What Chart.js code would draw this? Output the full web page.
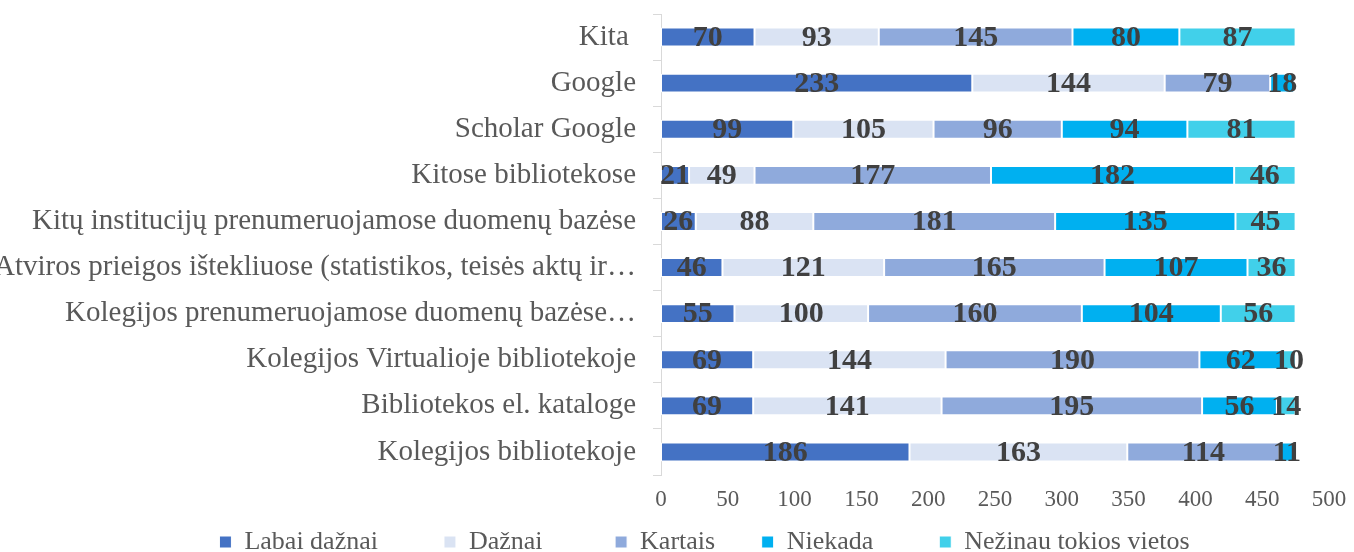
<!DOCTYPE html>
<html>
<head>
<meta charset="utf-8">
<script src="https://cdn.jsdelivr.net/npm/chart.js@4.4.0/dist/chart.umd.min.js"></script>
<style>
  html, body { margin: 0; padding: 0; background: #fff; }
  #wrap { width: 1354px; height: 552px; }
</style>
</head>
<body>
<div id="wrap"><canvas id="c"></canvas></div>
<script>
const categories = [
    "Kita ",
    "Google",
    "Scholar Google",
    "Kitose bibliotekose",
    "Kitų institucijų prenumeruojamose duomenų bazėse",
    "Atviros prieigos ištekliuose (statistikos, teisės aktų ir…",
    "Kolegijos prenumeruojamose duomenų bazėse…",
    "Kolegijos Virtualioje bibliotekoje",
    "Bibliotekos el. kataloge",
    "Kolegijos bibliotekoje"
];
const labaiDaznai = [70, 233, 99, 21, 26, 46, 55, 69, 69, 186];
const daznai      = [93, 144, 105, 49, 88, 121, 100, 144, 141, 163];
const kartais     = [145, 79, 96, 177, 181, 165, 160, 190, 195, 114];
const niekada     = [80, 18, 94, 182, 135, 107, 104, 62, 56, 11];
const nezinau     = [87, 0, 81, 46, 45, 36, 56, 10, 14, 0];
const seriesNames = ["Labai dažnai", "Dažnai", "Kartais", "Niekada", "Nežinau tokios vietos"];
const xTicks = [0, 50, 100, 150, 200, 250, 300, 350, 400, 450, 500];

const colors = ["#4472C4", "#DAE3F3", "#8FAADC", "#00B0F0", "#41D0EA"];
const serif = "'Liberation Serif', 'Times New Roman', serif";
// extra gap after each legend entry (non-breaking spaces)
const legendGaps = [10, 11, 7, 10, 0];

// draws the numbers in the middle of each segment
const valueLabels = {
    id: "valueLabels",
    afterLayout(chart) {
        // legend sits a bit right of the canvas centre in the original
        chart.legend.left += 40;
        chart.legend.right += 40;
    },
    afterDatasetsDraw(chart) {
        const ctx = chart.ctx;
        ctx.save();
        ctx.font = "bold 30px " + serif;
        ctx.fillStyle = "#404040";
        ctx.textAlign = "center";
        ctx.textBaseline = "middle";
        chart.data.datasets.forEach((ds, i) => {
            const meta = chart.getDatasetMeta(i);
            meta.data.forEach((bar, j) => {
                const v = ds.data[j];
                if (!v) return;
                ctx.fillText(String(v), (bar.x + bar.base) / 2, bar.y + 1);
            });
        });
        ctx.restore();
    }
};

const allSeries = [labaiDaznai, daznai, kartais, niekada, nezinau];

new Chart(document.getElementById("c"), {
    type: "bar",
    data: {
        labels: categories,
        datasets: allSeries.map((d, i) => ({
            label: seriesNames[i],
            data: d,
            backgroundColor: colors[i],
            borderColor: "#ffffff",
            borderWidth: 1,
            borderSkipped: false,
            categoryPercentage: 1,
            barPercentage: 0.41
        }))
    },
    options: {
        indexAxis: "y",
        responsive: true,
        maintainAspectRatio: false,
        animation: false,
        layout: {
            padding: { top: 14, right: 25, left: 0, bottom: -13 }
        },
        plugins: {
            legend: {
                position: "bottom",
                labels: {
                    boxWidth: 12,
                    boxHeight: 12,
                    padding: 1,
                    color: "#595959",
                    font: { family: serif, size: 26 },
                    generateLabels(chart) {
                        const items = Chart.defaults.plugins.legend.labels.generateLabels(chart);
                        items.forEach((it, i) => {
                            it.text = it.text + "\u00a0".repeat(legendGaps[i]);
                        });
                        return items;
                    }
                }
            },
            tooltip: { enabled: false }
        },
        scales: {
            x: {
                stacked: true,
                min: 0,
                max: 500,
                afterBuildTicks(scale) {
                    scale.ticks = xTicks.map(v => ({ value: v }));
                },
                afterFit(scale) {
                    scale.height = 53;
                },
                grid: { display: false },
                border: { display: false },
                ticks: {
                    padding: 3,
                    color: "#595959",
                    font: { family: serif, size: 23 },
                    maxRotation: 0
                }
            },
            y: {
                stacked: true,
                afterFit(scale) {
                    scale.width = 661;
                    scale.paddingTop = 0;
                    scale.paddingBottom = 0;
                },
                grid: {
                    display: true,
                    drawOnChartArea: false,
                    drawTicks: true,
                    tickLength: 8,
                    color: "#d9d9d9",
                    offset: true
                },
                border: { display: true, color: "#d9d9d9" },
                ticks: {
                    padding: 17,
                    color: "#595959",
                    font: { family: serif, size: 29 },
                    autoSkip: false
                }
            }
        }
    },
    plugins: [valueLabels]
});
</script>
</body>
</html>
